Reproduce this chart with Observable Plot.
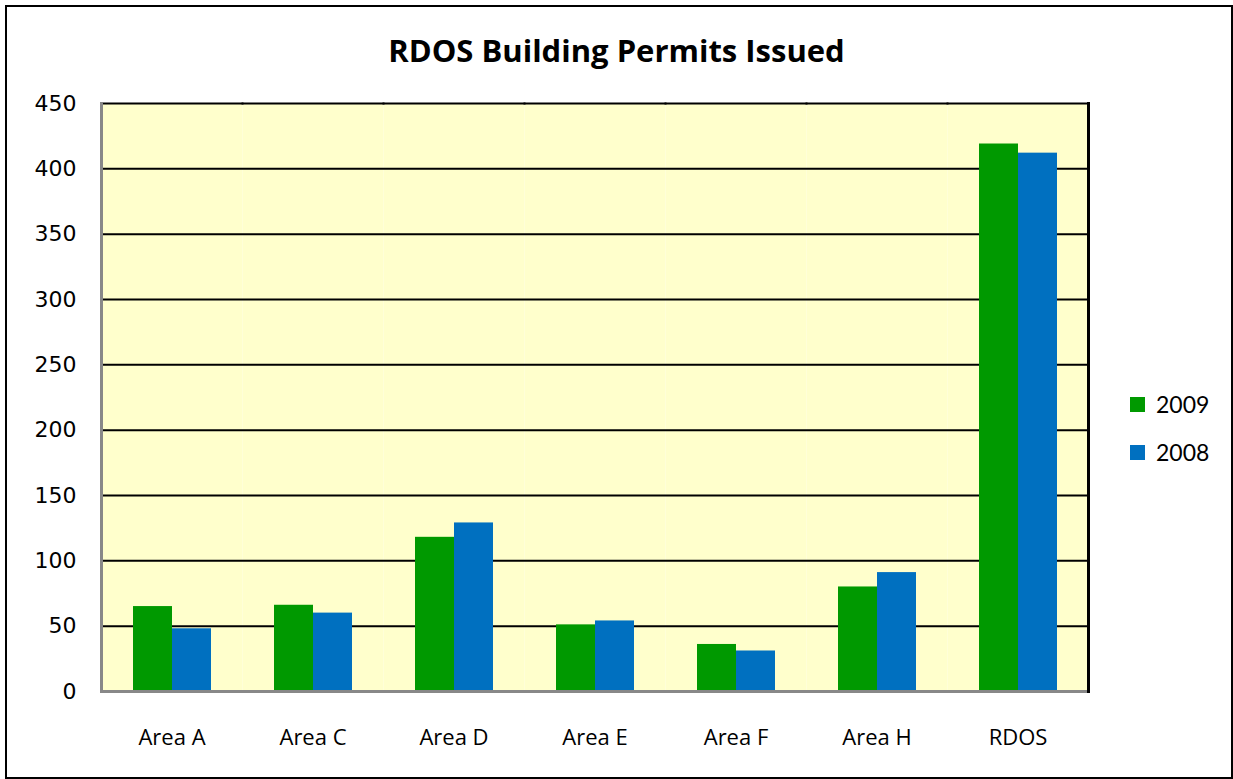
<!DOCTYPE html>
<html><head><meta charset="utf-8">
<script src="https://cdn.jsdelivr.net/npm/d3@7"></script>
<script src="https://cdn.jsdelivr.net/npm/@observablehq/plot@0.6"></script>
<style>
body{margin:0;background:#fff;}
#wrap{position:relative;width:1233px;height:779px;overflow:hidden;background:#fff;}
#border{position:absolute;left:5px;top:5px;width:1224px;height:770px;border:2px solid #000;box-sizing:content-box;pointer-events:none;}
#title{position:absolute;left:0;width:1233px;top:30px;line-height:40px;text-align:center;font-family:"Open Sans",sans-serif;font-weight:bold;font-size:31px;color:#000;}
#chart{position:absolute;left:0;top:0;}
#legend{position:absolute;left:1130px;top:380px;font-family:Lato,sans-serif;font-size:23px;color:#000;}
.row{display:flex;align-items:center;height:48px;}
.sw{width:15px;height:15px;margin-right:11px;}
</style>
</head><body>
<div id="wrap">
  <div id="chart"></div>
  <div id="title"></div>
  <div id="legend"></div>
  <div id="border"></div>
</div>
<script>
const titleText = "RDOS Building Permits Issued";
const categories = ["Area A","Area C","Area D","Area E","Area F","Area H","RDOS"];
const series = ["2009","2008"];
const values2009 = [65,66,118,51,36,80,419];
const values2008 = [48,60,129,54,31,91,412];
const yTicks = [0,50,100,150,200,250,300,350,400,450];
const gridTicks = [50,100,150,200,250,300,350,400];
const colors = ["#009900","#0070C0"];

const data = categories.flatMap((c,i)=>[
  {category:c, series:series[0], value:values2009[i]},
  {category:c, series:series[1], value:values2008[i]}
]);

document.getElementById("title").textContent = titleText;

const chart = Plot.plot({
  width:1233, height:779,
  marginLeft:100, marginRight:145, marginTop:103, marginBottom:88,
  fx:{domain:categories, padding:0, label:null},
  x:{domain:series, paddingInner:0, paddingOuter:0.764, axis:null},
  y:{domain:[0,450], axis:null},
  color:{domain:series, range:colors},
  style:{background:"transparent", fontFamily:"Lato, sans-serif", color:"#000"},
  marks:[
    Plot.frame({fill:"#FFFFCC", stroke:null}),
    Plot.gridY(gridTicks, {stroke:"#000", strokeOpacity:1, strokeWidth:2}),
    Plot.barY(data, {fx:"category", x:"series", y:"value", fill:"series"}),
    Plot.frame({anchor:"top", stroke:"#000", strokeWidth:2}),
    Plot.frame({anchor:"bottom", stroke:"#888", strokeWidth:3}),
    Plot.frame({anchor:"left", stroke:"#888", strokeWidth:3, facetAnchor:"left"}),
    Plot.frame({anchor:"right", stroke:"#000", strokeWidth:3, facetAnchor:"right"}),
    Plot.axisY({ticks:yTicks, tickSize:0, tickPadding:25, fontSize:22, fontFamily:"DejaVu Sans", label:null}),
    Plot.axisFx({anchor:"bottom", tickSize:0, tickPadding:38, fontSize:22, fontFamily:"Open Sans", label:null})
  ]
});
document.getElementById("chart").appendChild(chart);

const legend = document.getElementById("legend");
series.forEach((s,i)=>{
  const row = document.createElement("div"); row.className="row";
  const sw = document.createElement("div"); sw.className="sw"; sw.style.background=colors[i];
  const t = document.createElement("span"); t.textContent=s;
  row.appendChild(sw); row.appendChild(t); legend.appendChild(row);
});
</script>
</body></html>
